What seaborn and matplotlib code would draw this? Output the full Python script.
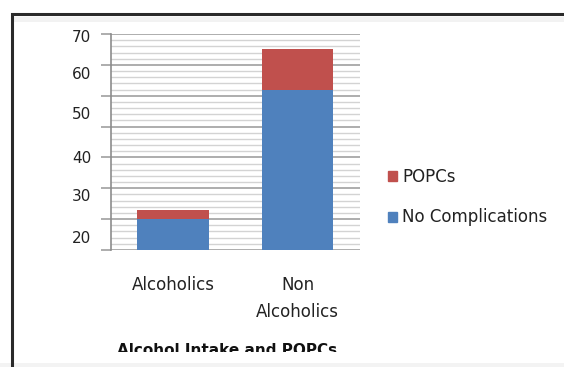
import matplotlib
matplotlib.use("Agg")
import matplotlib.pyplot as plt
import seaborn as sns
import pandas as pd
from matplotlib.patches import Rectangle

# ---- data ----
categories = ["Alcoholics", "Non\nAlcoholics"]
no_complications = [10, 52]
popcs = [3, 13]
series_names = ["POPCs", "No Complications"]
ytick_labels = ["70", "60", "50", "40", "30", "20"]
ytick_label_pos = [69.4, 57.4, 44.4, 30.1, 17.8, 4.2]
title = "Alcohol Intake and POPCs"

BLUE = "#4F81BD"
RED = "#C0504D"

sns.set_theme(style="white")
plt.rcParams["font.family"] = ["DejaVu Sans"]

W, H = 564, 367
fig = plt.figure(figsize=(W / 100, H / 100), dpi=100)
fig.patch.set_facecolor("white")

def px(x0, y0, x1, y1):
    return [x0 / W, 1 - y1 / H, (x1 - x0) / W, (y1 - y0) / H]

ax = fig.add_axes(px(110.7, 34, 360, 250))

df = pd.DataFrame({
    "cat": categories,
    "total": [a + b for a, b in zip(no_complications, popcs)],
    "nc": no_complications,
})

sns.barplot(data=df, x="cat", y="total", color=RED, width=0.57,
            saturation=1, ax=ax, edgecolor="none", zorder=3)
sns.barplot(data=df, x="cat", y="nc", color=BLUE, width=0.57,
            saturation=1, ax=ax, edgecolor="none", zorder=3)

ax.set_xlim(-0.5, 1.5)
ax.set_ylim(0, 70)
ax.set_xlabel("")
ax.set_ylabel("")
ax.set_yticks(range(0, 71, 10))
ax.set_yticks(range(0, 71, 2), minor=True)
ax.set_axisbelow(True)
ax.grid(False)
ax.yaxis.grid(True, which="minor", color="#d3d3d3", lw=1.0)
ax.yaxis.grid(True, which="major", color="#a0a0a0", lw=1.2)
ax.tick_params(axis="y", which="major", length=7, width=1.2, color="#a0a0a0",
               labelleft=False, left=True, direction="out")
ax.tick_params(axis="y", which="minor", length=0)
for s in ["top", "right", "bottom"]:
    ax.spines[s].set_visible(False)
ax.spines["left"].set_color("#8c8c8c")
ax.spines["left"].set_linewidth(1.2)

ax.set_xticks([0, 1])
ax.set_xticklabels(categories, fontsize=12, color="#222222", linespacing=1.6)
ax.tick_params(axis="x", length=0, pad=19)

sec = ax.secondary_yaxis("left")
sec.set_yticks(ytick_label_pos)
sec.set_yticklabels(ytick_labels, fontsize=11, color="#222222")
sec.tick_params(length=0, pad=14)
sec.spines["left"].set_visible(False)

handles = [Rectangle((0, 0), 1, 1, color=RED), Rectangle((0, 0), 1, 1, color=BLUE)]
fig.legend(handles, series_names, loc="upper left",
           bbox_to_anchor=(388 / W, 1 - 168 / H), frameon=False,
           fontsize=12, handlelength=0.55, handleheight=0.55,
           handletextpad=0.3, labelspacing=1.35, borderpad=0,
           borderaxespad=0, labelcolor="#222222")

fig.text(227 / W, 1 - 343 / H, title, ha="center", va="top",
         fontsize=11, fontweight="bold", color="#111111", zorder=3)

# the screenshot is cut below the title
fig.add_artist(Rectangle((0, 0), 1, (H - 352.3) / H, transform=fig.transFigure,
                         facecolor="white", edgecolor="none", zorder=5))
fig.add_artist(Rectangle((0, 0), 1, 4 / H, transform=fig.transFigure,
                         facecolor="#f3f3f3", edgecolor="none", zorder=6))

# outer frame of the screenshot
fig.add_artist(Rectangle((11.5 / W, -0.1), 1.2, 1 - 14.5 / H + 0.1,
                         transform=fig.transFigure, fill=False,
                         edgecolor="#2a2a2a", lw=2.2, zorder=10))
fig.add_artist(Rectangle((13 / W, 1 - 22 / H), 1, 5.5 / H,
                         transform=fig.transFigure, facecolor="#f2f2f2",
                         edgecolor="none", zorder=0))

fig.savefig("out.png", dpi=100, facecolor="white")
